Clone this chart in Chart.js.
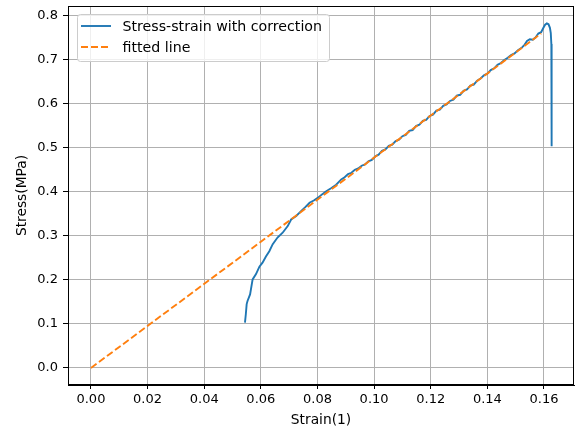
<!DOCTYPE html>
<html><head><meta charset="utf-8">
<script src="https://cdn.jsdelivr.net/npm/chart.js@4"></script>
<style>html,body{margin:0;padding:0;background:#fff}#wrap{width:575px;height:432px}</style>
</head><body><div id="wrap"><canvas id="c" width="575" height="432"></canvas></div>
<script>
const strain = [0.0544,0.0547,0.0550,0.0553,0.0562,0.0571,0.0583,0.0595,0.0606,0.0618,0.0630,0.0642,0.0659,0.0677,0.0695,0.0707,0.0725,0.0742,0.0757,0.0772,0.0787,0.0801,0.0816,0.0831,0.0848,0.0866,0.0884,
0.0896,0.0908,0.0920,0.0932,0.0944,0.0956,0.0968,0.0980,0.0992,0.1004,0.1016,0.1028,0.1040,0.1052,0.1064,0.1076,0.1088,0.1100,0.1112,0.1124,0.1136,0.1148,0.1160,0.1172,0.1184,0.1196,0.1208,0.1220,0.1232,0.1244,0.1256,0.1268,0.1280,0.1292,0.1304,0.1316,0.1328,0.1340,0.1352,0.1364,0.1376,0.1388,0.1400,0.1412,0.1424,0.1436,0.1448,0.1460,0.1472,0.1484,0.1496,0.1508,0.1520,0.1532,0.1540,0.1550,0.1560,0.1570,0.1580,0.1590,0.1598,0.1604,0.1610,0.1616,0.1621,0.1624,0.1626,0.1627,0.1627];
const stress = [0.103,0.122,0.145,0.152,0.167,0.201,0.213,0.230,0.239,0.253,0.265,0.281,0.296,0.307,0.322,0.337,0.345,0.356,0.365,0.375,0.380,0.386,0.394,0.401,0.408,0.416,0.428,
0.433,0.440,0.443,0.450,0.453,0.459,0.462,0.469,0.472,0.480,0.484,0.493,0.496,0.504,0.507,0.515,0.518,0.526,0.529,0.538,0.540,0.549,0.552,0.561,0.563,0.572,0.575,0.584,0.586,0.595,0.598,0.606,0.609,0.618,0.620,0.629,0.632,0.641,0.643,0.652,0.657,0.664,0.668,0.676,0.680,0.688,0.692,0.699,0.704,0.710,0.714,0.721,0.726,0.734,0.742,0.746,0.745,0.750,0.759,0.762,0.772,0.779,0.782,0.780,0.772,0.760,0.735,0.700,0.503];
const fitStrain = [0, 0.159];
const fitStress = [0, 0.759];
const xTicks = [0.00,0.02,0.04,0.06,0.08,0.10,0.12,0.14,0.16];
const yTicks = [0.0,0.1,0.2,0.3,0.4,0.5,0.6,0.7,0.8];
const seriesNames = ['Stress-strain with correction','fitted line'];
const colors = ['#1f77b4','#ff7f0e'];

const FONT = 'DejaVu Sans';
const toPts = (xs, ys) => xs.map((x, i) => ({x: x, y: ys[i]}));

const frame = {
  id: 'frame',
  afterDatasetsDraw(chart) {
    const ctx = chart.ctx, a = chart.chartArea;
    ctx.save();
    const x = 77.5, y = 14.5, w = 252, h = 47, r = 3;
    ctx.beginPath();
    ctx.moveTo(x + r, y); ctx.lineTo(x + w - r, y); ctx.arcTo(x + w, y, x + w, y + r, r);
    ctx.lineTo(x + w, y + h - r); ctx.arcTo(x + w, y + h, x + w - r, y + h, r);
    ctx.lineTo(x + r, y + h); ctx.arcTo(x, y + h, x, y + h - r, r);
    ctx.lineTo(x, y + r); ctx.arcTo(x, y, x + r, y, r);
    ctx.closePath();
    ctx.fillStyle = 'rgba(255,255,255,0.8)'; ctx.fill();
    ctx.strokeStyle = '#cccccc'; ctx.lineWidth = 1; ctx.stroke();
    const rows = [26, 47];
    for (let i = 0; i < 2; i++) {
      ctx.beginPath();
      ctx.strokeStyle = colors[i]; ctx.lineWidth = 1.9;
      ctx.setLineDash(i === 1 ? [7, 3] : []);
      ctx.moveTo(81, rows[i]); ctx.lineTo(111, rows[i]); ctx.stroke();
      ctx.setLineDash([]);
      ctx.fillStyle = '#000'; ctx.font = '14.2px "' + FONT + '"';
      ctx.textAlign = 'left'; ctx.textBaseline = 'middle';
      ctx.fillText(seriesNames[i], 122.5, rows[i] + 1);
    }
    ctx.strokeStyle = '#000'; ctx.lineWidth = 1;
    ctx.strokeRect(Math.round(a.left) + 0.5, Math.round(a.top) + 0.5, Math.round(a.right - a.left) - 1, Math.round(a.bottom - a.top) - 1);
    ctx.restore();
  }
};

new Chart(document.getElementById('c'), {
  type: 'scatter',
  data: {
    datasets: [
      {label: seriesNames[0], data: toPts(strain, stress), showLine: true, borderColor: colors[0], backgroundColor: colors[0], borderWidth: 1.9, pointRadius: 0, tension: 0, order: 2},
      {label: seriesNames[1], data: toPts(fitStrain, fitStress), showLine: true, borderColor: colors[1], backgroundColor: colors[1], borderWidth: 1.9, borderDash: [7, 3], pointRadius: 0, tension: 0, order: 1}
    ]
  },
  options: {
    responsive: false, animation: false, devicePixelRatio: 1,
    layout: {padding: {top: 6, right: 1, left: 0, bottom: 0}},
    plugins: {legend: {display: false}, tooltip: {enabled: false}},
    scales: {
      x: {
        type: 'linear', min: -0.0081, max: 0.1706,
        afterBuildTicks: s => { s.ticks = xTicks.map(v => ({value: v})); },
        afterFit: s => { s.height = 47; s.paddingLeft = 0; s.paddingRight = 0; },
        ticks: {callback: v => Number(v).toFixed(2), color: '#000', font: {family: FONT, size: 13}, padding: 3, maxRotation: 0, autoSkip: false},
        grid: {color: '#b0b0b0', lineWidth: 1, tickColor: '#000', tickLength: 4, drawTicks: true},
        border: {display: true, color: '#000', width: 1},
        title: {display: true, text: 'Strain(1)', color: '#000', font: {family: FONT, size: 13.8}, padding: {top: 2, bottom: 3}}
      },
      y: {
        type: 'linear', min: -0.0386, max: 0.8215,
        afterBuildTicks: s => { s.ticks = yTicks.map(v => ({value: v})); },
        afterFit: s => { s.width = 68; s.paddingTop = 0; s.paddingBottom = 0; },
        ticks: {callback: v => Number(v).toFixed(1), color: '#000', font: {family: FONT, size: 13}, padding: 5, autoSkip: false},
        grid: {color: '#b0b0b0', lineWidth: 1, tickColor: '#000', tickLength: 5, drawTicks: true},
        border: {display: true, color: '#000', width: 1},
        title: {display: true, text: 'Stress(MPa)', color: '#000', font: {family: FONT, size: 13.8}, padding: {top: 14, bottom: 0}}
      }
    }
  },
  plugins: [frame]
});
</script>
</body></html>
